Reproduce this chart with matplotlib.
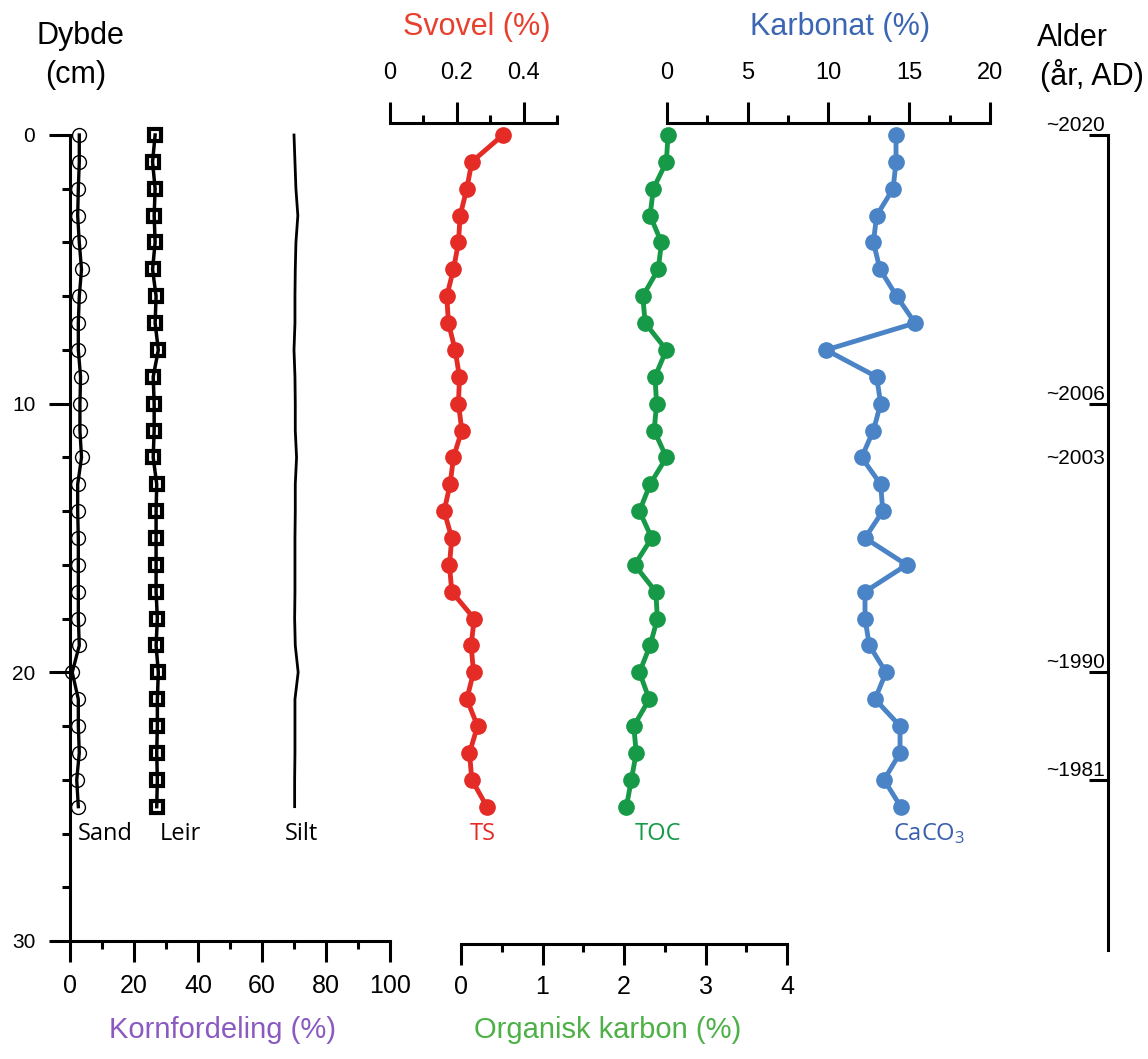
import numpy as np
import matplotlib
matplotlib.use('Agg')
import matplotlib.pyplot as plt
from matplotlib.ticker import MultipleLocator, FixedLocator

plt.rcParams['font.family'] = ['Liberation Sans', 'DejaVu Sans']
plt.rcParams['mathtext.fontset'] = 'custom'
plt.rcParams['mathtext.rm'] = 'Open Sans'
plt.rcParams['mathtext.default'] = 'regular'

# dybde (cm)
depth = np.arange(0, 26)

# kornfordeling (%)
sand = [2.9, 2.9, 2.6, 2.4, 2.9, 3.6, 2.9, 2.6, 2.6, 3.3, 3.1, 3.1, 3.6,
        2.4, 2.4, 2.6, 2.6, 2.6, 2.6, 2.9, 0.7, 2.6, 2.6, 2.9, 2.1, 2.6]
leir = [26.6, 25.8, 26.6, 26.3, 26.6, 25.8, 26.9, 26.6, 27.6, 26.0, 26.3, 26.3, 26.0,
        27.1, 26.9, 26.9, 26.9, 26.9, 27.3, 26.9, 27.6, 27.3, 27.3, 27.1, 27.3, 27.1]
silt = [70.0, 70.3, 70.6, 71.2, 70.6, 70.4, 70.3, 70.3, 70.0, 70.3, 70.4, 70.4, 70.8,
        70.4, 70.4, 70.3, 70.3, 70.3, 70.2, 70.4, 71.3, 70.3, 70.3, 70.3, 70.2, 70.2]

# svovel, organisk karbon, karbonat (%)
ts = [0.338, 0.245, 0.23, 0.21, 0.205, 0.19, 0.17, 0.175, 0.195, 0.208, 0.205, 0.215, 0.19,
      0.18, 0.162, 0.185, 0.178, 0.185, 0.252, 0.243, 0.25, 0.23, 0.262, 0.238, 0.245, 0.29]
toc = [2.54, 2.52, 2.36, 2.32, 2.46, 2.42, 2.23, 2.26, 2.52, 2.38, 2.40, 2.37, 2.52,
       2.32, 2.19, 2.34, 2.13, 2.39, 2.41, 2.32, 2.19, 2.31, 2.12, 2.15, 2.09, 2.03]
caco3 = [14.18, 14.18, 14.0, 12.98, 12.78, 13.19, 14.22, 15.36, 9.85, 12.98, 13.23, 12.78, 12.05,
         13.23, 13.36, 12.26, 14.84, 12.26, 12.26, 12.53, 13.56, 12.88, 14.43, 14.43, 13.44, 14.47]

# alder
age_labels = ['~2020', '~2006', '~2003', '~1990', '~1981']
age_depths = [0, 10, 12.4, 20, 24]
age_ticks = [0, 10, 20, 24]

W, H = 1148, 1059
PX = 30 / (941 - 135)   # cm per pixel


def box(x0, y0, x1, y1):
    return [x0 / W, 1 - y1 / H, (x1 - x0) / W, (y1 - y0) / H]


fig = plt.figure(figsize=(W / 100, H / 100), dpi=100)
lw_ax = 2.2


def clean(ax, keep):
    ax.patch.set_alpha(0)
    for s in ['left', 'right', 'top', 'bottom']:
        ax.spines[s].set_visible(s in keep)
        ax.spines[s].set_linewidth(lw_ax)


# kornfordeling
ax_g = fig.add_axes(box(70, 135, 390, 941))
clean(ax_g, ['left', 'bottom'])
ax_g.set_xlim(0, 100)
ax_g.set_ylim(30, 0)
ax_g.xaxis.set_major_locator(MultipleLocator(20))
ax_g.xaxis.set_minor_locator(MultipleLocator(10))
ax_g.yaxis.set_major_locator(MultipleLocator(10))
ax_g.yaxis.set_minor_locator(MultipleLocator(2))
ax_g.tick_params(which='major', length=15, width=lw_ax, direction='out')
ax_g.tick_params(which='minor', length=6, width=lw_ax, direction='out')
ax_g.tick_params(axis='y', labelsize=15, pad=10)
ax_g.tick_params(axis='x', labelsize=18, pad=9)
ax_g.plot(sand, depth, '-o', color='black', lw=2.4, ms=10, mfc='none', mew=1, clip_on=False)
ax_g.plot(leir, depth, '-s', color='black', lw=2.5, ms=9, mfc='none', mew=3, clip_on=False)
ax_g.plot(silt, depth, '-', color='black', lw=2, clip_on=False)

lab_font = ['Open Sans', 'DejaVu Sans']
ax_g.text(2.5, 26.0, 'Sand', fontsize=17, family=lab_font, va='center', ha='left')
ax_g.text(28, 26.0, 'Leir', fontsize=17, family=lab_font, va='center', ha='left')
ax_g.text(67, 26.0, 'Silt', fontsize=17, family=lab_font, va='center', ha='left')

# organisk karbon
ax_t = fig.add_axes(box(461, 135, 787, 944))
clean(ax_t, ['bottom'])
ax_t.set_xlim(0, 4)
ax_t.set_ylim((944 - 135) * PX, 0)
ax_t.set_yticks([])
ax_t.xaxis.set_major_locator(MultipleLocator(1))
ax_t.xaxis.set_minor_locator(MultipleLocator(0.5))
ax_t.tick_params(which='major', length=15, width=lw_ax, direction='out', labelsize=18, pad=7)
ax_t.tick_params(which='minor', length=6, width=lw_ax, direction='out')
green = '#179a47'
ax_t.plot(toc, depth, '-o', color=green, lw=3.5, ms=11, clip_on=False)
ax_t.text(2.13, 26.0, 'TOC', fontsize=17, family=lab_font, color=green, va='center', ha='left')

# svovel
ax_s = fig.add_axes(box(390, 123, 557, 941))
clean(ax_s, ['top'])
ax_s.set_xlim(0, 0.5)
ax_s.set_ylim(30, -12 * PX)
ax_s.set_yticks([])
ax_s.xaxis.set_ticks_position('top')
ax_s.xaxis.set_major_locator(FixedLocator([0, 0.2, 0.4]))
ax_s.xaxis.set_minor_locator(FixedLocator([0.1, 0.3, 0.5]))
ax_s.set_xticklabels(['0', '0.2', '0.4'])
ax_s.tick_params(which='major', length=15, width=lw_ax, direction='out', labelsize=17, pad=13)
ax_s.tick_params(which='minor', length=6, width=lw_ax, direction='out')
red = '#e42b26'
ax_s.plot(ts, depth, '-o', color=red, lw=3.5, ms=11, clip_on=False)
ax_s.text(0.24, 26.0, 'TS', fontsize=17, family=lab_font, color=red, va='center', ha='left')

# karbonat
ax_c = fig.add_axes(box(667, 123, 990, 941))
clean(ax_c, ['top'])
ax_c.set_xlim(0, 20)
ax_c.set_ylim(30, -12 * PX)
ax_c.set_yticks([])
ax_c.xaxis.set_ticks_position('top')
ax_c.xaxis.set_major_locator(MultipleLocator(5))
ax_c.xaxis.set_minor_locator(MultipleLocator(2.5))
ax_c.tick_params(which='major', length=15, width=lw_ax, direction='out', labelsize=17, pad=13)
ax_c.tick_params(which='minor', length=6, width=lw_ax, direction='out')
blue = '#4a84c6'
ax_c.plot(caco3, depth, '-o', color=blue, lw=3.5, ms=11, clip_on=False)
ax_c.text(14.0, 26.0, 'CaCO$_3$', fontsize=17, family=lab_font, color='#3a60ad',
          va='center', ha='left')

# alder
ax_a = fig.add_axes(box(1000, 135, 1108, 950))
clean(ax_a, ['right'])
ax_a.set_ylim((950 - 135) * PX, 0)
ax_a.set_xticks([])
ax_a.yaxis.set_ticks_position('right')
ax_a.set_yticks(age_ticks)
ax_a.set_yticklabels([])
ax_a.tick_params(axis='y', length=14, width=lw_ax, direction='in')
for lab, d in zip(age_labels, age_depths):
    ax_a.text(0.97, d, lab, fontsize=15, ha='right', va='bottom',
              transform=ax_a.get_yaxis_transform())

# titler
fig.text(80 / W, 1 - 36 / H, 'Dybde', fontsize=22, ha='center', va='center')
fig.text(76 / W, 1 - 75 / H, '(cm)', fontsize=22, ha='center', va='center')
fig.text(477 / W, 1 - 27 / H, 'Svovel (%)', fontsize=22, ha='center', va='center', color='#e8402f')
fig.text(840 / W, 1 - 27 / H, 'Karbonat (%)', fontsize=22, ha='center', va='center', color='#3b66b3')
fig.text(1072 / W, 1 - 38 / H, 'Alder', fontsize=22, ha='center', va='center')
fig.text(1092 / W, 1 - 75 / H, '(år, AD)', fontsize=22, ha='center', va='center')
fig.text(223 / W, 1 - 1030 / H, 'Kornfordeling (%)', fontsize=21, ha='center', va='center',
         color='#8a5ac0')
fig.text(608 / W, 1 - 1030 / H, 'Organisk karbon (%)', fontsize=21, ha='center', va='center',
         color='#4db148')

fig.savefig('out.png', dpi=100)
